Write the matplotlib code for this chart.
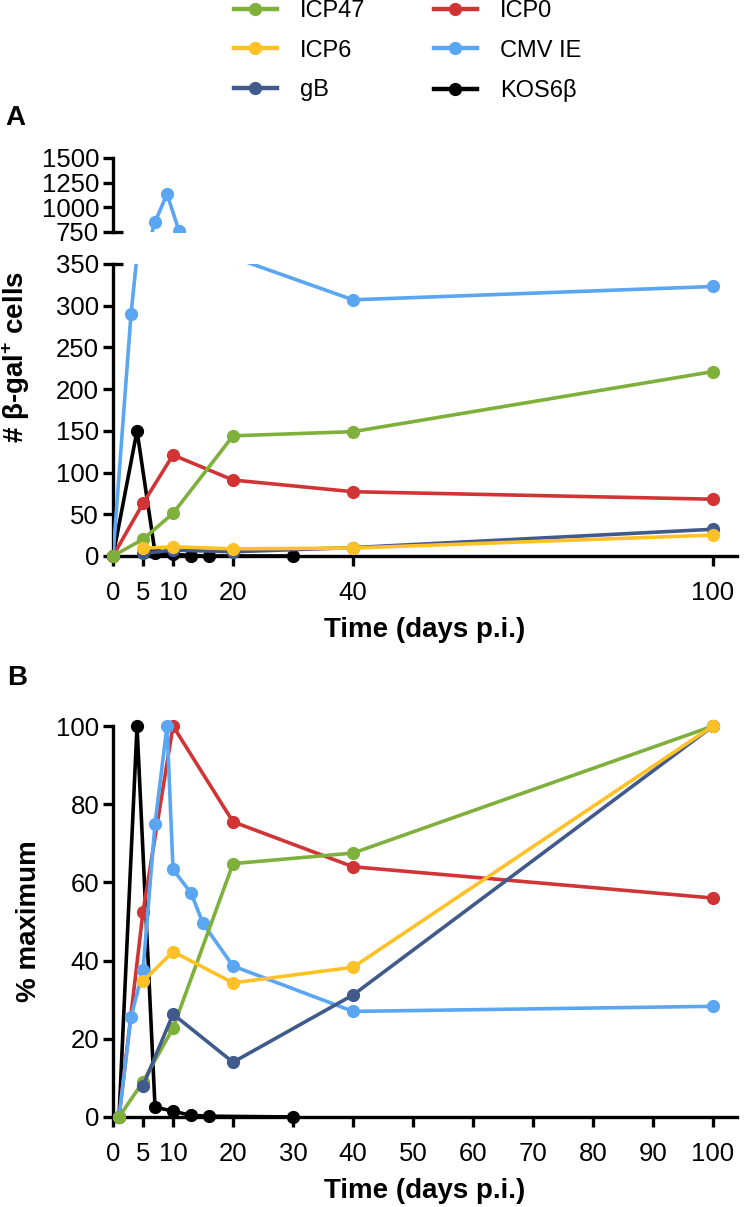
import matplotlib.pyplot as plt
from matplotlib.lines import Line2D

plt.rcParams['font.family'] = ['Liberation Sans', 'DejaVu Sans']
plt.rcParams['mathtext.fontset'] = 'custom'
plt.rcParams['mathtext.bf'] = 'Liberation Sans:bold'

# colours
c_icp47 = '#80B03C'
c_icp0 = '#D03434'
c_icp6 = '#FFC126'
c_cmv = '#5AA6F2'
c_gb = '#405A8C'
c_kos = '#000000'

# panel A: number of beta-gal+ cells
days_a = [0, 5, 10, 20, 40, 100]
icp47_a = [0, 20, 51, 144, 149, 221]
icp0_a = [0, 63, 121, 91, 77, 68]
days_a_late = [5, 10, 20, 40, 100]
icp6_a = [9, 11, 8.5, 9.5, 25]
gb_a = [3, 7, 5, 10, 32]
days_cmv_a = [0, 3, 5, 7, 9, 11, 13, 15, 20, 40, 100]
cmv_a = [0, 290, 430, 852, 1135, 760, 650, 565, 358, 307, 323]
days_kos_a = [0, 4, 7, 10, 13, 16, 30]
kos_a = [0, 150, 4, 2, 0.5, 0, 0]

# panel B: % maximum
days_b = [1, 5, 10, 20, 40, 100]
icp47_b = [0, 9, 22.7, 64.8, 67.5, 100]
icp0_b = [0, 52.5, 100, 75.5, 64, 56]
days_b_late = [5, 10, 20, 40, 100]
icp6_b = [34.7, 42.3, 34.3, 38.3, 100]
gb_b = [8.0, 26.3, 14, 31.2, 100]
days_cmv_b = [1, 3, 5, 7, 9, 10, 13, 15, 20, 40, 100]
cmv_b = [0, 25.6, 37.5, 75, 100, 63.3, 57.3, 49.5, 38.6, 27, 28.3]
days_kos_b = [1, 4, 7, 10, 13, 16, 30]
kos_b = [0, 100, 2.5, 1.5, 0.4, 0.2, 0]

xticks_a = [0, 5, 10, 20, 40, 100]
xticks_b = [0, 5, 10, 20, 30, 40, 50, 60, 70, 80, 90, 100]

LW = 2.6
MS = 8.5
SP = 2.4


def draw(ax, x, y, color, z, clip=False):
    ax.plot(x, y, '-o', color=color, lw=LW, ms=MS, zorder=z, clip_on=clip)


def style(ax):
    for s in ['top', 'right']:
        ax.spines[s].set_visible(False)
    for s in ['left', 'bottom']:
        ax.spines[s].set_linewidth(SP)
    ax.tick_params(width=SP, length=7, labelsize=18.5, direction='out')
    ax.tick_params(axis='x', pad=11)
    ax.tick_params(axis='y', pad=3)


fig = plt.figure(figsize=(7.46, 12.07), dpi=100)
axA = fig.add_axes([0.1515, 0.5394, 0.8365, 0.2419])
axT = fig.add_axes([0.1515, 0.8078, 0.8365, 0.0613])
axB = fig.add_axes([0.1515, 0.0746, 0.8365, 0.3239])

# ---- panel A lower part
draw(axA, days_kos_a, kos_a, c_kos, 2)
draw(axA, days_a, icp0_a, c_icp0, 3)
draw(axA, days_cmv_a, cmv_a, c_cmv, 4, clip=True)
draw(axA, days_a, icp47_a, c_icp47, 5)
draw(axA, days_a_late, gb_a, c_gb, 6)
draw(axA, days_a_late, icp6_a, c_icp6, 7)
style(axA)
axA.set_xlim(0, 104)
axA.set_ylim(0, 350)
axA.set_xticks(xticks_a)
axA.set_yticks(range(0, 351, 50))
axA.yaxis.remove_overlapping_locs = False
axA.set_yticks([350], minor=True)
axA.tick_params(axis='y', which='minor', direction='in', length=7, width=SP)
axA.set_xlabel('Time (days p.i.)', fontsize=20, fontweight='bold', labelpad=9)
axA.set_ylabel('# β-gal$^{\\mathbf{+}}$ cells', fontsize=20, fontweight='bold')
axA.yaxis.set_label_coords(-0.13, 0.68)

# ---- panel A upper part (broken axis)
draw(axT, days_cmv_a, cmv_a, c_cmv, 4, clip=True)
style(axT)
axT.spines['bottom'].set_visible(False)
axT.set_xlim(0, 104)
axT.set_ylim(750, 1500)
axT.set_xticks([])
axT.set_yticks([750, 1000, 1250, 1500])
axT.yaxis.remove_overlapping_locs = False
axT.set_yticks([750], minor=True)
axT.tick_params(axis='y', which='minor', direction='in', length=7, width=SP)

# ---- panel B
draw(axB, days_kos_b, kos_b, c_kos, 2)
draw(axB, days_b, icp0_b, c_icp0, 3)
draw(axB, days_cmv_b, cmv_b, c_cmv, 4)
draw(axB, days_b, icp47_b, c_icp47, 5)
draw(axB, days_b_late, gb_b, c_gb, 6)
draw(axB, days_b_late, icp6_b, c_icp6, 7)
style(axB)
axB.set_xlim(0, 104)
axB.set_ylim(0, 100)
axB.set_xticks(xticks_b)
axB.set_yticks(range(0, 101, 20))
axB.set_xlabel('Time (days p.i.)', fontsize=20, fontweight='bold', labelpad=9)
axB.set_ylabel('% maximum', fontsize=20, fontweight='bold')
axB.yaxis.set_label_coords(-0.114, 0.5)

# panel letters
fig.text(5 / 746, 1 - 105 / 1207, 'A', fontsize=20, fontweight='bold', va='top')
fig.text(7 / 746, 1 - 665 / 1207, 'B', fontsize=20, fontweight='bold', va='top')

# legend (row-major order in the picture, matplotlib fills columns)
names = ['ICP47', 'ICP6', 'gB', 'ICP0', 'CMV IE', 'KOS6β']
cols = [c_icp47, c_icp6, c_gb, c_icp0, c_cmv, c_kos]
handles = [Line2D([], [], color=c, lw=LW + 0.6, marker='o', ms=MS) for c in cols]
fig.legend(handles, names, ncol=2, loc='upper left',
           bbox_to_anchor=(234 / 746, 1.0), frameon=False, fontsize=17,
           handlelength=1.8, handletextpad=1.0, columnspacing=2.9,
           labelspacing=0.75, borderpad=0, borderaxespad=0)

fig.savefig('out.png', dpi=100)
